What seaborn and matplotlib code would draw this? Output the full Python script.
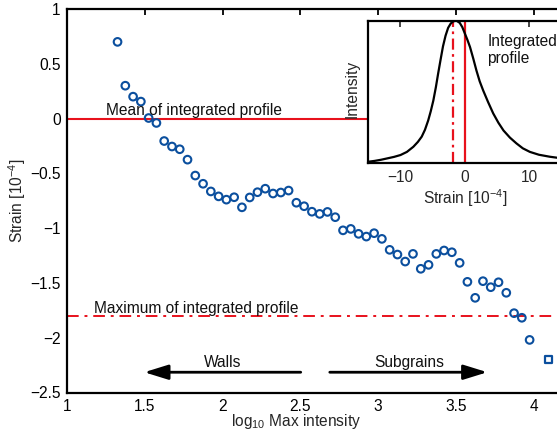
import matplotlib
matplotlib.use("Agg")
import matplotlib.pyplot as plt
import seaborn as sns
import pandas as pd
import numpy as np

# ---- data ----
log_max_intensity = [1.325, 1.375, 1.425, 1.475, 1.525, 1.575, 1.625, 1.675, 1.725, 1.775,
                     1.825, 1.875, 1.925, 1.975, 2.025, 2.075, 2.125, 2.175, 2.225, 2.275,
                     2.325, 2.375, 2.425, 2.475, 2.525, 2.575, 2.625, 2.675, 2.725, 2.775,
                     2.825, 2.875, 2.925, 2.975, 3.025, 3.075, 3.125, 3.175, 3.225, 3.275,
                     3.325, 3.375, 3.425, 3.475, 3.525, 3.575, 3.625, 3.675, 3.725, 3.775,
                     3.825, 3.875, 3.925, 3.975]
strain = [0.70, 0.30, 0.20, 0.155, 0.005, -0.04, -0.205, -0.255, -0.28, -0.375,
          -0.52, -0.595, -0.665, -0.71, -0.74, -0.718, -0.81, -0.72, -0.672, -0.64,
          -0.684, -0.675, -0.657, -0.768, -0.80, -0.85, -0.87, -0.852, -0.90, -1.02,
          -1.007, -1.052, -1.077, -1.046, -1.098, -1.198, -1.241, -1.305, -1.235, -1.371,
          -1.335, -1.235, -1.204, -1.22, -1.317, -1.49, -1.636, -1.484, -1.539, -1.494,
          -1.59, -1.776, -1.818, -2.02]
last_x = [4.098]
last_strain = [-2.20]

mean_profile = 0.0
max_profile = -1.8

xticks = [1, 1.5, 2, 2.5, 3, 3.5, 4]
yticks = [-2.5, -2, -1.5, -1, -0.5, 0, 0.5, 1]

profile_strain = [-15, -14, -13, -12, -11, -10, -9, -8, -7.3, -6.7,
                  -6.2, -5.7, -5.3, -4.9, -4.5, -4.15, -3.8, -3.4, -3.0, -2.6,
                  -2.2, -1.8, -1.3, -0.8, -0.4, 0.0, 0.4, 0.8, 1.3, 1.8,
                  2.3, 2.85, 3.6, 4.4, 5.2, 6.0, 7.0, 8.0, 9.0, 10.1,
                  11.5, 13.2, 15]
profile_intensity = [0.011, 0.017, 0.025, 0.035, 0.045, 0.058, 0.080, 0.116, 0.150, 0.187,
                     0.235, 0.30, 0.365, 0.44, 0.535, 0.63, 0.72, 0.82, 0.895, 0.95,
                     0.98, 0.996, 1.0, 0.985, 0.955, 0.91, 0.865, 0.815, 0.735, 0.65,
                     0.575, 0.51, 0.43, 0.35, 0.285, 0.23, 0.18, 0.14, 0.105, 0.08,
                     0.06, 0.046, 0.035]
inset_xticks = [-10, 0, 10]

# ---- styling ----
sns.set_theme(style="white")
plt.rcParams['font.family'] = ['Liberation Sans', 'DejaVu Sans']
plt.rcParams['mathtext.fontset'] = 'custom'
plt.rcParams['mathtext.rm'] = 'Liberation Sans'
plt.rcParams['mathtext.it'] = 'Liberation Sans:italic'
plt.rcParams['axes.unicode_minus'] = True

BLUE = "#0b4f9e"
RED = "#e8111c"
FS = 11.2

W, H = 557, 432
fig = plt.figure(figsize=(W / 100, H / 100), dpi=100)
fig.patch.set_facecolor("white")

def fx(px):
    return px / W

def fy(py):
    return 1 - py / H

# main axes: x=1 at 67px, 155.5 px per unit; y from 392.5 (bottom) to 9 (top)
left_px, top_px, bot_px = 67, 9, 392.5
xlim = (1, 4.2)
right_px = left_px + (xlim[1] - xlim[0]) * 155.5
ax = fig.add_axes([fx(left_px), fy(bot_px), (right_px - left_px) / W, (bot_px - top_px) / H])
ax.set_facecolor("white")

df = pd.DataFrame({"x": log_max_intensity, "y": strain})
sns.scatterplot(data=df, x="x", y="y", ax=ax, marker="o", s=30,
                facecolor="none", edgecolor=BLUE, linewidth=1.5, zorder=3)
df2 = pd.DataFrame({"x": last_x, "y": last_strain})
sns.scatterplot(data=df2, x="x", y="y", ax=ax, marker="s", s=22,
                facecolor="none", edgecolor=BLUE, linewidth=1.6, zorder=3)

ax.axhline(mean_profile, color=RED, lw=1.5, zorder=2)
ax.axhline(max_profile, color=RED, lw=1.4, ls=(0, (6, 3, 1.5, 3)), zorder=2)

ax.text(1.251, 0.035, "Mean of integrated profile", fontsize=FS, color="#111111",
        ha="left", va="baseline")
ax.text(1.174, -1.776, "Maximum of integrated profile", fontsize=FS, color="#111111",
        ha="left", va="baseline")

arrow_style = "-|>,head_length=1.45,head_width=0.45"
ax.annotate("", xy=(1.497, -2.315), xytext=(2.503, -2.315),
            arrowprops=dict(arrowstyle=arrow_style, lw=2, color="black",
                            shrinkA=0, shrinkB=0, mutation_scale=10))
ax.annotate("", xy=(3.703, -2.315), xytext=(2.69, -2.315),
            arrowprops=dict(arrowstyle=arrow_style, lw=2, color="black",
                            shrinkA=0, shrinkB=0, mutation_scale=10))
ax.text(2.0, -2.27, "Walls", fontsize=FS, ha="center", va="baseline", color="#111111")
ax.text(3.2, -2.27, "Subgrains", fontsize=FS, ha="center", va="baseline", color="#111111")

ax.set_xlim(*xlim)
ax.set_ylim(-2.5, 1)
ax.set_xticks(xticks)
ax.set_xticklabels([f"{t:g}" for t in xticks])
ax.set_yticks(yticks)
ax.set_yticklabels([f"{t:g}".replace("-", "\u2212") for t in yticks])
ax.tick_params(direction="in", length=4.5, width=1.3, top=True, right=True,
               labelsize=FS, colors="black", pad=4.5)
for s in ax.spines.values():
    s.set_linewidth(1.6)
    s.set_color("black")
ax.set_xlabel("log$_{10}$ Max intensity", fontsize=FS)
ax.set_ylabel("Strain [10$^{-4}$]", fontsize=FS)
ax.xaxis.set_label_coords((296 - left_px) / (right_px - left_px), -0.052)
ax.yaxis.set_label_coords(-0.078, 0.5)

# inset
in_left, in_top, in_bot = 368.3, 20.7, 163.3
in_right = 465 + 15 * 6.43
axi = fig.add_axes([fx(in_left), fy(in_bot), (in_right - in_left) / W, (in_bot - in_top) / H])
axi.set_facecolor("white")
dfp = pd.DataFrame({"s": profile_strain, "i": profile_intensity})
sns.lineplot(data=dfp, x="s", y="i", ax=axi, color="black", lw=1.6, zorder=3)
axi.axvline(0, color=RED, lw=1.6, zorder=2)
axi.axvline(-1.8, color=RED, lw=1.6, ls=(0, (5, 2, 1.2, 2)), zorder=2)
axi.set_xlim(-15, 15)
axi.set_ylim(0, 1)
axi.set_xticks(inset_xticks)
axi.set_xticklabels([f"{t:g}".replace("-", "\u2212") for t in inset_xticks])
axi.set_yticks([])
axi.tick_params(direction="in", length=4, width=1.2, top=True, labelsize=FS, pad=4.5)
for s in axi.spines.values():
    s.set_linewidth(1.6)
    s.set_color("black")
axi.set_xlabel("Strain [10$^{-4}$]", fontsize=FS, labelpad=2)
axi.set_ylabel("Intensity", fontsize=FS)
axi.yaxis.set_label_coords(-0.043, 0.52)
axi.text(3.5, 0.91, "Integrated\nprofile", fontsize=FS, ha="left", va="top",
         linespacing=1.2, color="#111111")

fig.savefig("out.png", dpi=100)
